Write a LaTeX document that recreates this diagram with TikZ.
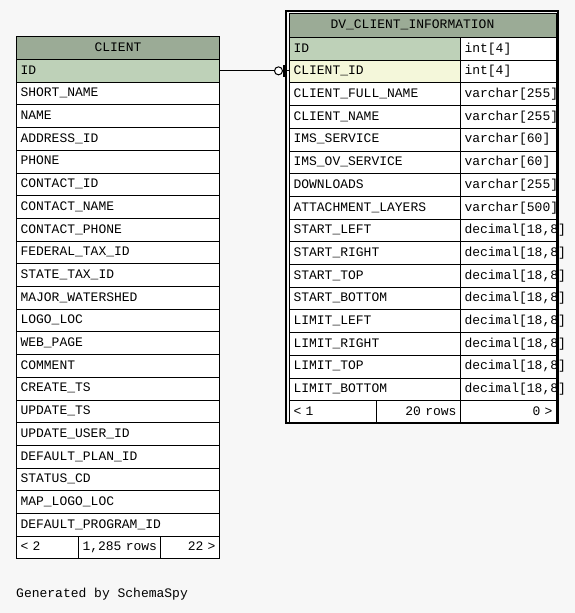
\documentclass[tikz,border=0pt]{standalone}
\usepackage{fontspec}
\setmonofont{Liberation Mono}
\usetikzlibrary{calc}
\definecolor{bg}{HTML}{F7F7F7}
\definecolor{hdr}{HTML}{9BAB96}
\definecolor{pk}{HTML}{BED1B8}
\definecolor{fk}{HTML}{F4F7DA}
\begin{document}
\begin{tikzpicture}[x=1pt,y=-1pt,
  cell/.style={draw=black, line width=1pt, anchor=north west, inner xsep=4pt, inner ysep=0pt,
    minimum height=22.7pt, font=\ttfamily\fontsize{13}{13}\selectfont, text height=9pt, text depth=2.5pt,
    fill=white, align=left},
  hdrcell/.style={cell, fill=hdr, minimum height=23.5pt},
  lbl/.style={anchor=west, inner sep=0pt, font=\ttfamily\fontsize{13}{13}\selectfont}
]
\fill[bg] (0,0) rectangle (575,613);
\useasboundingbox (0,0) rectangle (575,613);

% ---------------- CLIENT ----------------
\node[hdrcell, text width=195pt, align=center, minimum height=23pt] (cH) at (16,36) {CLIENT};
\node[cell, fill=pk, text width=195pt] (c1) at (16,59) {ID};
\foreach \t [count=\i from 2] in {SHORT\_NAME, NAME, ADDRESS\_ID, PHONE, CONTACT\_ID, CONTACT\_NAME,
  CONTACT\_PHONE, FEDERAL\_TAX\_ID, STATE\_TAX\_ID, MAJOR\_WATERSHED, LOGO\_LOC, WEB\_PAGE, COMMENT,
  CREATE\_TS, UPDATE\_TS, UPDATE\_USER\_ID, DEFAULT\_PLAN\_ID, STATUS\_CD, MAP\_LOGO\_LOC, DEFAULT\_PROGRAM\_ID} {
  \pgfmathsetmacro\y{59+22.7*(\i-1)}
  \node[cell, text width=195pt] (c\i) at (16,\y) {\t};
}
\node[cell, text width=54pt] (cF1) at (16,535.7) {< 2};
\node[cell, text width=74pt] (cF2) at (78,535.7) {\mbox{1,285 rows}};
\node[cell, text width=51pt, align=right] (cF3) at (160,535.7) {22 >};

% ---------------- DV_CLIENT_INFORMATION ----------------
\node[hdrcell, text width=259pt, minimum height=24pt] (dH) at (289,13) {\hspace*{37pt}DV\_CLIENT\_INFORMATION};
\node[cell, fill=pk, text width=163pt] (d1) at (289,37) {ID};
\node[cell, text width=88pt] (t1) at (460,37) {int[4]};
\node[cell, fill=fk, text width=163pt] (d2) at (289,59.7) {CLIENT\_ID};
\node[cell, text width=88pt] (t2) at (460,59.7) {int[4]};
\foreach \n/\ty [count=\i from 3] in {CLIENT\_FULL\_NAME/{varchar[255]}, CLIENT\_NAME/{varchar[255]},
  IMS\_SERVICE/{varchar[60]}, IMS\_OV\_SERVICE/{varchar[60]}, DOWNLOADS/{varchar[255]},
  ATTACHMENT\_LAYERS/{varchar[500]}, START\_LEFT/{decimal[18,8]}, START\_RIGHT/{decimal[18,8]},
  START\_TOP/{decimal[18,8]}, START\_BOTTOM/{decimal[18,8]}, LIMIT\_LEFT/{decimal[18,8]},
  LIMIT\_RIGHT/{decimal[18,8]}, LIMIT\_TOP/{decimal[18,8]}, LIMIT\_BOTTOM/{decimal[18,8]}} {
  \pgfmathsetmacro\y{37+22.7*(\i-1)}
  \node[cell, text width=163pt] (d\i) at (289,\y) {\n};
  \node[cell, text width=88pt] (t\i) at (460,\y) {\ty};
}
\node[cell, text width=79pt] (dF1) at (289,400.2) {< 1};
\node[cell, text width=76pt, align=right] (dF2) at (376,400.2) {20 rows};
\node[cell, text width=88pt, align=right] (dF3) at (460,400.2) {0 >};
% outer (double) border of the focused table
\draw[line width=2pt] (286,11) rectangle (557.5,423);

% ---------------- relationship ----------------
\coordinate (cend) at (c1.east -| d2.west);
\draw[line width=1pt] (c1.east) -- (cend);
\draw[line width=1pt, fill=white] ($(cend)+(-10.5,0)$) circle (4pt);
\draw[line width=2.2pt] ($(cend)+(-4.5,-6)$) -- ($(cend)+(-4.5,6)$);

% ---------------- caption ----------------
\node[lbl] (gen) at (16,594) {Generated by SchemaSpy};
\end{tikzpicture}
\end{document}
